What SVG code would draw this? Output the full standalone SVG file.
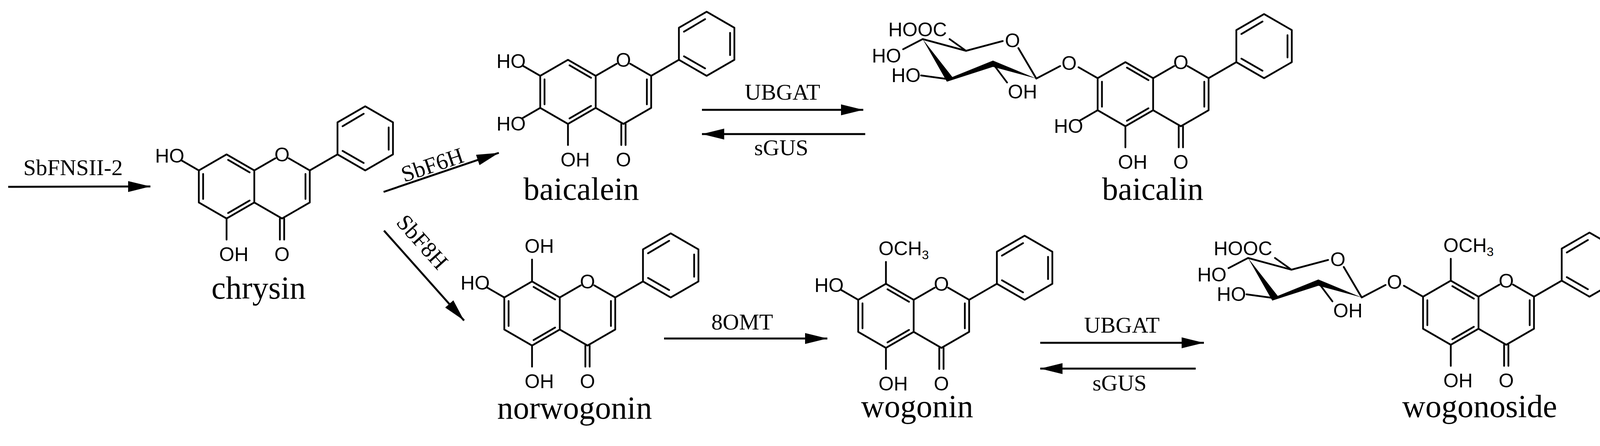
<svg xmlns="http://www.w3.org/2000/svg" xmlns:xlink="http://www.w3.org/1999/xlink" width="4170" height="1141" viewBox="0 0 4170 1141">
<style>
.b{fill:none;stroke:#000;stroke-width:4.5;stroke-linejoin:round;stroke-linecap:round}
.a{fill:none;stroke:#000;stroke-width:5}
.at{font-family:"Liberation Sans",Arial,sans-serif;font-size:50px;fill:#000}
.nm{font-family:"Liberation Serif","Times New Roman",serif;font-size:82px;fill:#000;text-anchor:middle}
.en{font-family:"Liberation Serif","Times New Roman",serif;font-size:58px;fill:#000;text-anchor:middle}
.sub{font-size:32px}
</style>
<defs>
<marker id="ah" markerUnits="userSpaceOnUse" markerWidth="60" markerHeight="34" refX="57" refY="17" orient="auto">
<path d="M0,3 L57,17 L0,31 Z" fill="#000"/>
</marker>
<g id="flav">
<path class="b" d="M0,-82 L71,-41 L71,41 L0,82 L-71,41 L-71,-41 Z M71,-41 L124.7,-72 M159.3,-72 L213,-41 L213,41 L142,82 L71,41 M213,-41 L284,-82 M284,-82 L284,-164 L355,-205 L426,-164 L426,-82 L355,-41 Z M4,-68 L59,-36 M59,36 L4,68 M-60,32 L-60,-32 M202,-32 L202,32 M297,-154 L351,-186 M415,-151 L415,-94 M351,-60 L297,-91 M136.5,82 L136.5,136 M147.5,82 L147.5,136"/>
<text class="at" x="142" y="-64" text-anchor="middle">O</text>
<text class="at" x="142" y="191" text-anchor="middle">O</text>
</g>
<g id="sug">
<path class="b" d="M-291,-101 L-180,-71 L-86,-96 M-46,-78 L0,0 L61,-32 M-222,-101 L-180,-71 M-341,-75 L-291,-101 M-295,-8 L-222,2 M-111,-38 L-75,10"/>
<polygon points="-291,-101 -215,-4 -111,-46 0,0 -111,-30 -229,8" fill="#000"/>
<text class="at" x="-61" y="-80" text-anchor="middle">O</text>
<text class="at" x="-304" y="-108" text-anchor="middle">HOOC</text>
<text class="at" x="-346" y="-41" text-anchor="end">HO</text>
<text class="at" x="-296" y="9" text-anchor="end">HO</text>
<text class="at" x="-73" y="51">OH</text>
<text class="at" x="84" y="-22" text-anchor="middle">O</text>
</g>
</defs>
<rect width="4170" height="1141" fill="#fff"/>

<g id="chrysin" transform="translate(580,477)">
<use xlink:href="#flav" href="#flav"/>
<path class="b" d="M-71,-41 L-116,-67 M0,82 L0,136"/>
<text class="at" x="-108" y="-61" text-anchor="end">HO</text>
<text class="at" x="-19" y="191">OH</text>
<text class="nm" x="82" y="287">chrysin</text>
</g>

<g id="baicalein" transform="translate(1454,235)">
<use xlink:href="#flav" href="#flav"/>
<path class="b" d="M-71,-41 L-116,-67 M-71,41 L-116,67 M0,82 L0,136"/>
<text class="at" x="-108" y="-61" text-anchor="end">HO</text>
<text class="at" x="-108" y="99" text-anchor="end">HO</text>
<text class="at" x="-19" y="191">OH</text>
<text class="nm" x="34" y="276">baicalein</text>
</g>

<g id="baicalin" transform="translate(2881,241)">
<use xlink:href="#flav" href="#flav"/>
<path class="b" d="M-71,-41 L-120,-69 M-71,41 L-116,67 M0,82 L0,136"/>
<use xlink:href="#sug" href="#sug" transform="translate(-228,-40)"/>
<text class="at" x="-108" y="99" text-anchor="end">HO</text>
<text class="at" x="-19" y="191">OH</text>
<text class="nm" x="70" y="270">baicalin</text>
</g>

<g id="norwogonin" transform="translate(1362,802)">
<use xlink:href="#flav" href="#flav"/>
<path class="b" d="M-71,-41 L-116,-67 M0,-82 L0,-138 M0,82 L0,136"/>
<text class="at" x="-108" y="-61" text-anchor="end">HO</text>
<text class="at" x="-19" y="-155">OH</text>
<text class="at" x="-19" y="191">OH</text>
<text class="nm" x="109" y="269">norwogonin</text>
</g>

<g id="wogonin" transform="translate(2268,808)">
<use xlink:href="#flav" href="#flav"/>
<path class="b" d="M-71,-41 L-116,-67 M0,-82 L0,-138 M0,82 L0,136"/>
<text class="at" x="-108" y="-61" text-anchor="end">HO</text>
<text class="at" x="-19" y="-155">OCH<tspan class="sub" dy="10">3</tspan></text>
<text class="at" x="-19" y="191">OH</text>
<text class="nm" x="80" y="259">wogonin</text>
</g>

<g id="wogonoside" transform="translate(3714,800)">
<use xlink:href="#flav" href="#flav"/>
<path class="b" d="M-71,-41 L-120,-69 M0,-82 L0,-138 M0,82 L0,136"/>
<use xlink:href="#sug" href="#sug" transform="translate(-228,-39)"/>
<text class="at" x="-19" y="-155">OCH<tspan class="sub" dy="10">3</tspan></text>
<text class="at" x="-19" y="191">OH</text>
<text class="nm" x="74" y="267">wogonoside</text>
</g>

<g id="connectors">
<line class="a" x1="21" y1="478" x2="385" y2="477" marker-end="url(#ah)"/>
<text class="en" x="187" y="448">SbFNSII-2</text>
<line class="a" x1="982" y1="491" x2="1277" y2="391" marker-end="url(#ah)"/>
<text class="en" transform="translate(1107,423) rotate(-18.7)" y="18">SbF6H</text>
<line class="a" x1="983" y1="590" x2="1188" y2="820" marker-end="url(#ah)"/>
<text class="en" transform="translate(1080,620) rotate(48.3)" y="18">SbF8H</text>
<line class="a" x1="1797" y1="281" x2="2210" y2="281" marker-end="url(#ah)"/>
<text class="en" x="2003" y="255">UBGAT</text>
<line class="a" x1="2215" y1="343" x2="1797" y2="343" marker-end="url(#ah)"/>
<text class="en" x="2000" y="397">sGUS</text>
<line class="a" x1="1700" y1="866" x2="2118" y2="866" marker-end="url(#ah)"/>
<text class="en" x="1900" y="843">8OMT</text>
<line class="a" x1="2663" y1="877" x2="3082" y2="877" marker-end="url(#ah)"/>
<text class="en" x="2872" y="851">UBGAT</text>
<line class="a" x1="3061" y1="943" x2="2663" y2="943" marker-end="url(#ah)"/>
<text class="en" x="2866" y="999">sGUS</text>
</g>
</svg>
